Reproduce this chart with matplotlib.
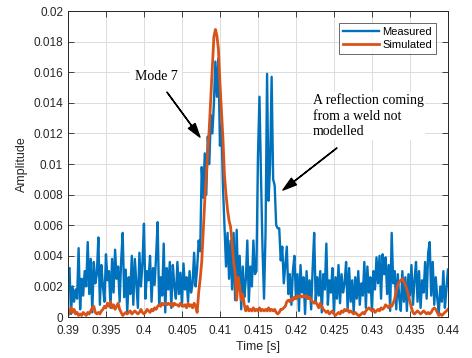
import numpy as np
import matplotlib
matplotlib.use("Agg")
import matplotlib.pyplot as plt
from matplotlib.ticker import FuncFormatter, MultipleLocator

# sample times: 0.39 s to 0.44 s, step 0.2 ms
t_start, t_step = 0.39, 0.0002

# amplitudes in units of 1e-3
measured = [
    3.0, 3.2, 0.2, 2.0, 1.0, 1.8, 1.2, 4.5, 0.5, 2.5,
    1.4, 3.0, 2.0, 4.9, 1.5, 3.8, 0.3, 3.6, 2.2, 2.8,
    5.2, 0.8, 3.4, 2.0, 1.0, 4.1, 2.4, 3.0, 0.6, 3.8,
    1.6, 4.4, 2.5, 3.3, 1.0, 3.7, 5.5, 1.3, 3.1, 0.3,
    2.6, 1.5, 4.0, 0.8, 3.8, 2.2, 0.6, 4.2, 2.0, 3.5,
    6.1, 1.2, 3.0, 2.4, 4.0, 1.0, 3.2, 2.1, 4.0, 6.2,
    0.8, 2.6, 1.4, 4.8, 0.3, 3.2, 1.8, 3.6, 0.6, 3.4,
    2.0, 1.2, 3.6, 1.5, 2.9, 0.7, 3.5, 1.8, 2.6, 1.0,
    3.0, 1.6, 2.2, 4.2, 2.0, 3.2, 5.0, 4.3, 9.8, 7.8,
    10.7, 8.0, 11.8, 10.0, 13.2, 12.0, 13.9, 16.7, 14.4, 16.9,
    11.2, 12.5, 8.5, 5.9, 3.3, 5.5, 2.5, 5.0, 1.8, 5.5,
    1.1, 5.7, 2.0, 4.0, 0.5, 3.3, 1.3, 2.4, 5.0, 1.0,
    3.3, 2.0, 5.0, 2.8, 3.0, 10.5, 14.4, 9.2, 4.5, 1.2,
    5.5, 15.9, 7.6, 10.0, 15.7, 9.0, 8.6, 6.0, 5.8, 5.8,
    3.7, 4.6, 2.2, 3.4, 4.6, 1.5, 2.8, 0.8, 3.0, 4.0,
    1.2, 2.8, 0.4, 3.4, 1.6, 2.6, 0.2, 3.0, 1.2, 2.4,
    0.5, 3.2, 5.5, 1.0, 2.6, 1.4, 3.0, 0.3, 2.8, 1.8,
    4.8, 0.8, 2.4, 1.6, 3.2, 0.2, 2.6, 1.2, 3.4, 0.9,
    2.8, 1.6, 2.2, 3.6, 0.5, 3.2, 1.0, 2.4, 0.3, 2.6,
    1.2, 3.0, 0.8, 2.2, 1.4, 3.6, 0.6, 3.3, 1.6, 2.6,
    0.4, 3.0, 1.8, 3.9, 2.2, 4.0, 1.2, 4.1, 2.8, 3.9,
    1.5, 3.4, 0.4, 5.5, 2.2, 3.0, 0.5, 2.8, 1.2, 0.4,
    3.0, 1.0, 2.6, 0.4, 2.8, 1.4, 3.4, 0.8, 2.4, 3.6,
    1.0, 3.0, 0.6, 2.4, 1.6, 3.6, 1.2, 4.2, 4.9, 1.4,
    3.6, 0.8, 2.6, 1.2, 0.3, 2.0, 1.0, 3.0, 0.6, 1.8,
    3.1,
]

simulated = [
    0.1, 0.3, 0.6, 0.3, 0.5, 0.2, 0.3, 0.1, 0.2, 0.1,
    0.3, 0.2, 0.1, 0.3, 0.2, 0.4, 0.6, 0.7, 0.3, 0.2,
    0.3, 0.2, 0.4, 0.5, 0.7, 0.6, 0.9, 0.7, 1.0, 0.6,
    0.8, 0.5, 0.7, 0.9, 0.5, 0.3, 0.1, 0.2, 0.3, 0.2,
    0.3, 0.4, 0.2, 0.3, 0.4, 0.3, 0.2, 0.3, 0.5, 0.3,
    0.2, 0.3, 0.5, 0.4, 0.3, 0.5, 0.4, 0.6, 0.5, 0.7,
    0.8, 0.7, 0.9, 0.8, 0.9, 0.8, 0.9, 0.8, 0.9, 0.7,
    0.9, 0.8, 0.8, 0.7, 0.9, 0.8, 0.7, 0.8, 0.6, 0.9,
    0.7, 0.8, 0.6, 0.9, 0.7, 0.3, 1.6, 2.5, 3.6, 5.6,
    7.6, 9.2, 10.8, 12.4, 14.4, 16.3, 18.3, 18.8, 18.4, 17.5,
    15.3, 13.4, 11.6, 9.2, 8.0, 7.0, 6.3, 5.9, 4.8, 3.6,
    2.9, 1.1, 2.6, 2.0, 1.1, 1.5, 0.8, 0.4, 0.7, 0.4,
    0.5, 0.4, 0.6, 0.4, 0.5, 0.4, 0.6, 0.4, 0.5, 0.4,
    0.5, 0.4, 0.6, 0.4, 0.5, 0.4, 0.5, 0.3, 0.2, 0.3,
    0.5, 0.5, 0.6, 0.7, 1.0, 1.1, 1.0, 1.2, 1.1, 1.3,
    1.2, 1.4, 1.3, 1.4, 1.3, 1.4, 1.3, 1.4, 1.2, 1.3,
    1.1, 1.0, 0.9, 1.0, 0.8, 0.6, 0.9, 0.7, 0.5, 0.4,
    0.3, 0.4, 0.2, 0.3, 0.4, 0.2, 0.1, 0.2, 0.3, 0.2,
    0.4, 0.3, 0.5, 0.4, 0.5, 0.3, 0.4, 0.3, 0.2, 0.3,
    0.2, 0.1, 0.1, 0.2, 0.3, 0.2, 0.4, 0.5, 0.6, 0.5,
    0.4, 0.5, 0.3, 0.4, 0.5, 0.4, 0.6, 0.5, 0.6, 0.8,
    0.7, 0.6, 0.8, 0.7, 0.9, 1.2, 1.7, 2.1, 2.3, 2.4,
    2.5, 2.3, 2.1, 1.8, 1.4, 1.0, 0.6, 0.3, 0.2, 0.3,
    0.4, 0.3, 0.2, 0.3, 0.4, 0.3, 0.2, 0.3, 0.2, 0.3,
    0.5, 0.6, 0.5, 0.3, 0.1, 0.2, 0.1, 0.2, 0.3, 0.4,
    0.5,
]

x_ticks = [0.39, 0.395, 0.40, 0.405, 0.41, 0.415, 0.42, 0.425, 0.43, 0.435, 0.44]

time = t_start + t_step * np.arange(len(measured))
y_meas = np.array(measured) * 1e-3
y_sim = np.array(simulated) * 1e-3

plt.rcParams["font.family"] = ["Liberation Sans", "DejaVu Sans"]
dark = "#262626"

fig = plt.figure(figsize=(4.72, 3.58), dpi=100)
ax = fig.add_axes([0.144, 0.1145, 0.805, 0.8545])

ax.plot(time, y_meas, color="#0072BD", lw=1.7, label="Measured")
ax.plot(time, y_sim, color="#D95319", lw=2.0, label="Simulated")

ax.set_xlim(0.39, 0.44)
ax.set_ylim(0, 0.02)
ax.set_xticks(x_ticks)
ax.yaxis.set_major_locator(MultipleLocator(0.002))
fmt = FuncFormatter(lambda v, p: "%g" % round(v, 6))
ax.xaxis.set_major_formatter(fmt)
ax.yaxis.set_major_formatter(fmt)
ax.tick_params(direction="in", top=True, right=True, length=4, width=0.6,
               colors=dark, labelsize=8.5)
ax.tick_params(axis="x", pad=5.5)
ax.tick_params(axis="y", pad=3.5)
for s in ax.spines.values():
    s.set_color(dark)
    s.set_linewidth(0.7)
ax.grid(True, color="#dcdcdc", lw=0.7)
ax.set_axisbelow(True)

ax.set_xlabel("Time [s]", fontsize=9, color=dark, labelpad=3)
ax.set_ylabel("Amplitude", fontsize=9, color=dark, labelpad=4)

leg = ax.legend(loc="upper right", fontsize=8, frameon=True, fancybox=False,
                handlelength=3.3, handletextpad=0.3, borderpad=0.35,
                labelspacing=0.3, borderaxespad=1.05)
leg.get_frame().set_edgecolor(dark)
leg.get_frame().set_linewidth(0.6)

serif = ["Liberation Serif", "DejaVu Serif"]
arrow = dict(facecolor="k", edgecolor="k", width=0.2, headwidth=6,
             headlength=10, shrink=0)
ax.text(0.40158, 0.01570, "Mode 7", family=serif, fontsize=10,
        ha="center", va="center",
        bbox=dict(facecolor="white", edgecolor="none", pad=3))
ax.annotate("", xy=(0.40737, 0.01176), xytext=(0.40303, 0.01470),
            arrowprops=arrow)
ax.text(0.42224, 0.01460, "A reflection coming\nfrom a weld not\nmodelled",
        family=serif, fontsize=10, ha="left", va="top", linespacing=1.25,
        bbox=dict(facecolor="white", edgecolor="none", pad=1))
ax.annotate("", xy=(0.41829, 0.0083), xytext=(0.42539, 0.01105),
            arrowprops=arrow)

fig.savefig("out.png", dpi=100)
